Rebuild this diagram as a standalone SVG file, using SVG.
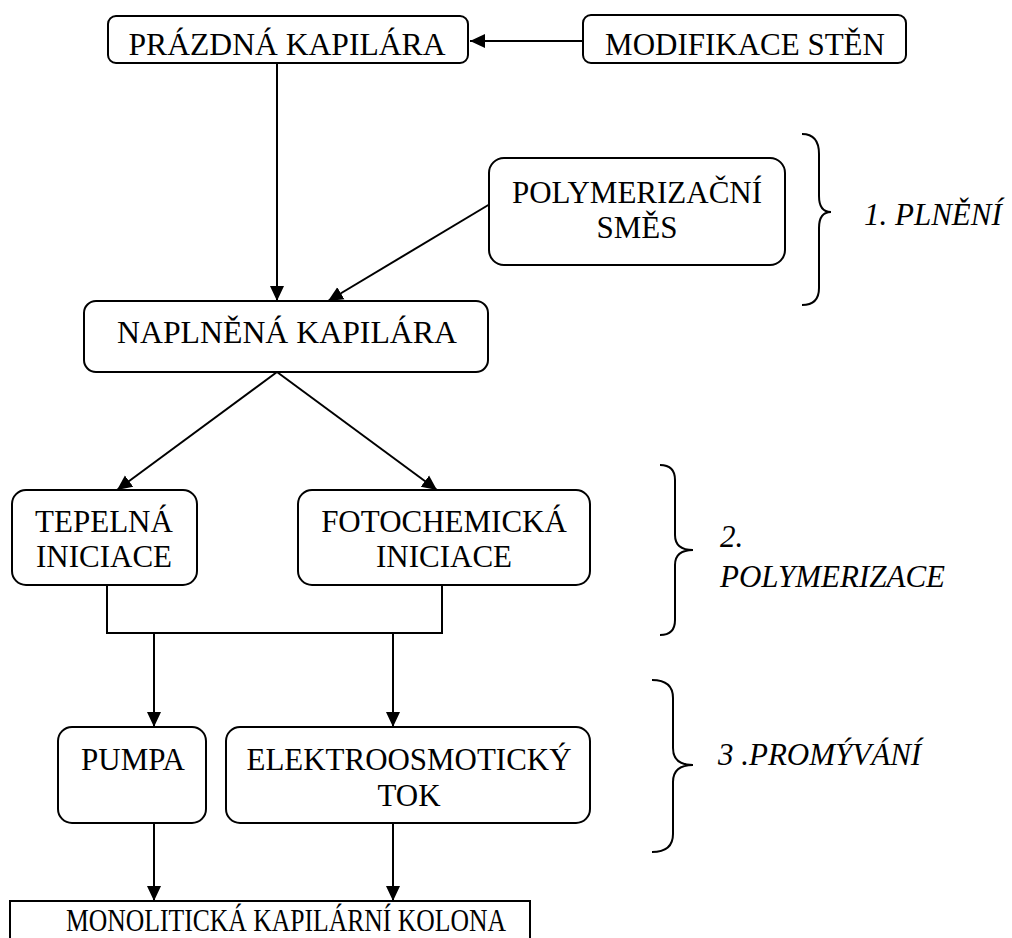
<svg xmlns="http://www.w3.org/2000/svg" width="1012" height="938" viewBox="0 0 1012 938">
<style>
.box{fill:#fff;stroke:#000;stroke-width:2}
.t{font-family:"Liberation Serif","Times New Roman",serif;font-size:31px;fill:#000;text-anchor:middle}
.it{font-family:"Liberation Serif","Times New Roman",serif;font-size:31px;fill:#000;font-style:italic}
.ln{fill:none;stroke:#000;stroke-width:2}
</style>
<defs>
<marker id="ah" markerUnits="userSpaceOnUse" markerWidth="16" markerHeight="16" viewBox="0 0 16 16" refX="15" refY="8" orient="auto">
<path d="M0,1 L15,8 L0,15 Z" fill="#000"/>
</marker>
</defs>
<rect width="1012" height="938" fill="#fff"/>
<g id="connectors">
<line class="ln" x1="583" y1="41" x2="470" y2="41" marker-end="url(#ah)"/>
<line class="ln" x1="277" y1="63" x2="277" y2="301" marker-end="url(#ah)"/>
<line class="ln" x1="490" y1="204" x2="328" y2="301" marker-end="url(#ah)"/>
<line class="ln" x1="277" y1="372" x2="117" y2="490" marker-end="url(#ah)"/>
<line class="ln" x1="277" y1="372" x2="437" y2="490" marker-end="url(#ah)"/>
<polyline class="ln" points="107,585 107,633 442,633 442,585"/>
<line class="ln" x1="154" y1="633" x2="154" y2="727" marker-end="url(#ah)"/>
<line class="ln" x1="393" y1="633" x2="393" y2="727" marker-end="url(#ah)"/>
<line class="ln" x1="154" y1="823" x2="154" y2="901" marker-end="url(#ah)"/>
<line class="ln" x1="393" y1="823" x2="393" y2="901" marker-end="url(#ah)"/>
</g>
<g id="prazdna">
<rect class="box" x="108" y="16" width="360" height="47" rx="8"/>
<text class="t" x="287" y="55" textLength="317" lengthAdjust="spacingAndGlyphs">PRÁZDNÁ KAPILÁRA</text>
</g>
<g id="modifikace">
<rect class="box" x="583" y="15" width="323" height="48" rx="8"/>
<text class="t" x="745" y="55">MODIFIKACE STĚN</text>
</g>
<g id="polymerizacni">
<rect class="box" x="489" y="158" width="296" height="107" rx="15"/>
<text class="t" x="637" y="203">POLYMERIZAČNÍ</text>
<text class="t" x="637" y="238">SMĚS</text>
</g>
<g id="naplnena">
<rect class="box" x="84" y="301" width="404" height="71" rx="12"/>
<text class="t" x="287" y="343" textLength="340" lengthAdjust="spacingAndGlyphs">NAPLNĚNÁ KAPILÁRA</text>
</g>
<g id="tepelna">
<rect class="box" x="12" y="490" width="185" height="95" rx="14"/>
<text class="t" x="104" y="532">TEPELNÁ</text>
<text class="t" x="104" y="567">INICIACE</text>
</g>
<g id="fotochemicka">
<rect class="box" x="298" y="490" width="292" height="95" rx="14"/>
<text class="t" x="444" y="532">FOTOCHEMICKÁ</text>
<text class="t" x="444" y="567">INICIACE</text>
</g>
<g id="pumpa">
<rect class="box" x="58" y="727" width="148" height="96" rx="14"/>
<text class="t" x="133" y="770">PUMPA</text>
</g>
<g id="elektro">
<rect class="box" x="226" y="727" width="364" height="96" rx="14"/>
<text class="t" x="409" y="770" textLength="325" lengthAdjust="spacingAndGlyphs">ELEKTROOSMOTICKÝ</text>
<text class="t" x="409" y="806">TOK</text>
</g>
<g id="monoliticka">
<rect class="box" x="10" y="901" width="520" height="60"/>
<text class="t" x="286" y="931" textLength="440" lengthAdjust="spacingAndGlyphs">MONOLITICKÁ KAPILÁRNÍ KOLONA</text>
</g>
<g id="phase1">
<path class="ln" d="M802,134 Q819,134 819,154 L819,196 Q819,212 831,212 Q819,212 819,228 L819,288 Q819,305 802,305"/>
<text class="it" x="864" y="225">1. PLNĚNÍ</text>
</g>
<g id="phase2">
<path class="ln" d="M660,465 Q675,465 675,480 L675,535 Q675,550 693,550 Q675,550 675,565 L675,620 Q675,635 660,635"/>
<text class="it" x="720" y="547">2.</text>
<text class="it" x="720" y="587">POLYMERIZACE</text>
</g>
<g id="phase3">
<path class="ln" d="M652,680 Q673,680 673,698 L673,748 Q673,765 693,765 Q673,765 673,782 L673,834 Q673,852 652,852"/>
<text class="it" x="718" y="765">3 .PROMÝVÁNÍ</text>
</g>
</svg>
